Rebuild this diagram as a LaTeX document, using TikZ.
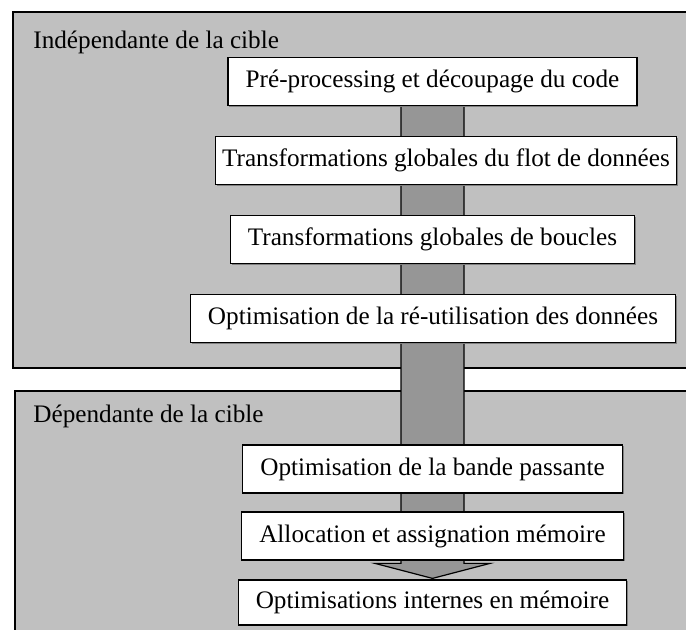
\documentclass[tikz,border=0pt]{standalone}
\usepackage{fontspec}
\setmainfont{Liberation Serif}
\usepackage{xcolor}
\usetikzlibrary{calc,shadows}
\definecolor{zonegray}{RGB}{192,192,192}
\definecolor{shaftgray}{RGB}{150,150,150}
\pgfdeclarelayer{back}
\pgfdeclarelayer{mid}
\pgfsetlayers{back,mid,main}

\begin{document}
\begin{tikzpicture}[x=0.5pt,y=-0.5pt,
	every node/.style={font=\fontsize{12.6}{15}\selectfont},
	zone/.style={draw,line width=1pt,fill=zonegray},
	shaft/.style={draw,line width=0.6pt,fill=shaftgray},
	title/.style={anchor=west,inner sep=0pt},
	stage/.style={rectangle,draw,line width=0.6pt,fill=white,minimum height=24pt,inner xsep=8.8pt,
		drop shadow={shadow xshift=0.7pt,shadow yshift=-0.7pt,fill=black!50,opacity=1}}]
	 \useasboundingbox (0,0) rectangle (686,630);
	 \clip (0,0) rectangle (686,630);

	 \begin{pgfonlayer}{back}
	 \draw[zone] (13,12) rectangle (700,368);
	 \draw[zone] (15,391) rectangle (700,640);
	 \end{pgfonlayer}

	 \node at (33,42) [title] (indep) {Indépendante de la cible};
	 \node at (33,416) [title] (dep) {Dépendante de la cible};

	 \node at (432.5,81.5) [stage] (prep) {Pré-processing et découpage du code};
	 \node at (446,160.5) [stage,inner xsep=3.3pt] (flot) {Transformations globales du flot de données};
	 \node at (432.5,239.5) [stage] (boucles) {Transformations globales de boucles};
	 \node at (433,318.5) [stage] (reuse) {Optimisation de la ré-utilisation des données};
	 \node at (432.5,469) [stage] (bande) {Optimisation de la bande passante};
	 \node at (432.5,536) [stage] (alloc) {Allocation et assignation mémoire};
	 \node at (432.5,602.5) [stage,minimum height=22.5pt] (intmem) {Optimisations internes en mémoire};

	 \begin{pgfonlayer}{mid}
	 \draw[shaft] ($(prep.center)+(-31.5,0)$) -- ($(prep.center |- intmem.north)+(-31.5,-16)$)
		 -- ($(prep.center |- intmem.north)+(-57.5,-16)$) -- ($(prep.center |- intmem.north)+(0,-1)$)
		 -- ($(prep.center |- intmem.north)+(57.5,-16)$) -- ($(prep.center |- intmem.north)+(31.5,-16)$)
		 -- ($(prep.center)+(31.5,0)$) -- cycle;
	 \end{pgfonlayer}

\end{tikzpicture}
\end{document}
